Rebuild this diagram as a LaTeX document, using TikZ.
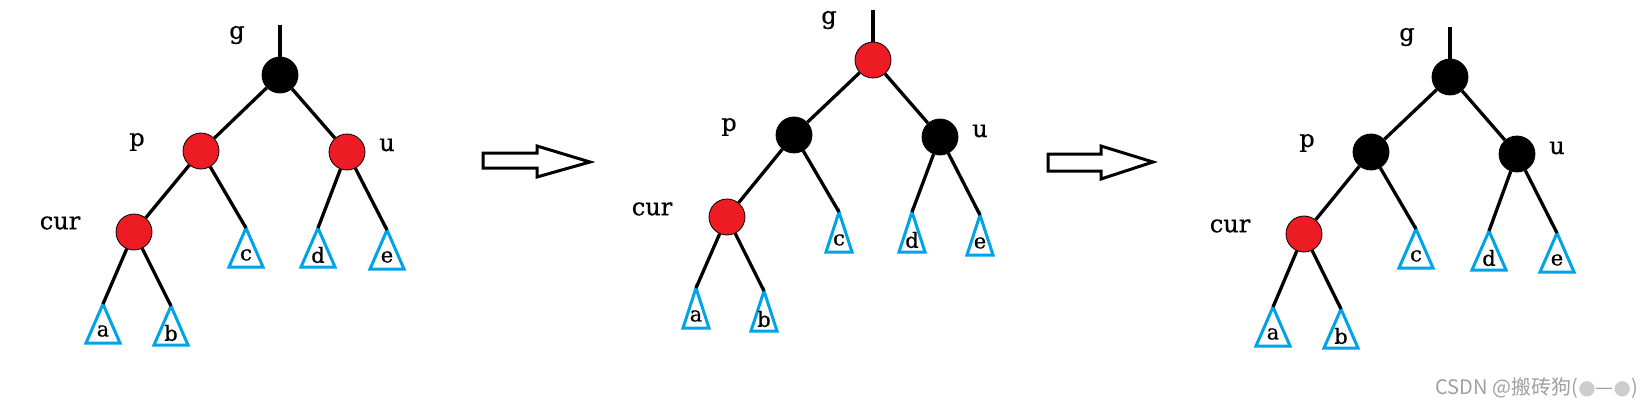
\documentclass[tikz,border=0pt]{standalone}
\usepackage{fontspec}
\setmainfont{DejaVu Serif}
\newfontfamily\lblfont[FakeBold=0.6]{DejaVu Serif}
\newfontfamily\cjkfont{Noto Sans CJK SC}
\newfontfamily\symfont{DejaVu Sans}
\definecolor{rbred}{RGB}{237,28,36}
\definecolor{tricyan}{RGB}{0,162,232}
\definecolor{wmgray}{RGB}{160,160,160}
\definecolor{wmball}{RGB}{205,205,205}
\tikzset{
  rbnode/.style={circle, minimum size=36pt, inner sep=0pt, draw=black, line width=0.8pt},
  rnode/.style={rbnode, fill=rbred},
  bnode/.style={rbnode, fill=black},
  edge/.style={line width=3.3pt, draw=black},
  tri/.style={draw=tricyan, line width=3pt, line join=miter},
  lbl/.style={font=\lblfont\fontsize{24}{28}\selectfont, inner sep=0pt},
  tlbl/.style={font=\lblfont\fontsize{21}{24}\selectfont, inner sep=0pt},
  arrowbox/.style={draw=black, line width=3pt, fill=white, line join=miter},
}
\newcommand\subtri[6]{%
  \coordinate (#1) at (#2,#3);
  \draw[tri] (#1) -- ++({-#4},#5) -- ++({2*#4},0) -- cycle;
  \path (#1) ++(0,{#5-12}) node[tlbl] (#1l) {#6};
}
\begin{document}
\begin{tikzpicture}[x=1pt, y=-1pt]
\useasboundingbox (0,0) rectangle (1651,409);
\fill[white] (0,0) rectangle (1651,409);

% ---------- tree 1 ----------
\coordinate (t1) at (280,25);
\node[bnode] (g1) at (280,75) {};
\node[rnode] (p1) at (201,151) {};
\node[rnode] (u1) at (347,152) {};
\node[rnode] (cur1) at (134,232) {};
\node[lbl] (g1l) at (237,35) {g};
\node[lbl] (p1l) at (137,142) {p};
\node[lbl] (u1l) at (387,145) {u};
\node[lbl] (cur1l) at (60,223) {cur};
\subtri{c1}{246}{228}{17}{39}{c}
\subtri{d1}{318}{228}{17}{39}{d}
\subtri{e1}{387}{230}{17}{39}{e}
\subtri{a1}{103}{304}{17}{39}{a}
\subtri{b1}{171}{306}{17}{39}{b}
\draw[edge] (t1) -- (g1);
\draw[edge] (g1) -- (p1);
\draw[edge] (g1) -- (u1);
\draw[edge] (p1) -- (cur1);
\draw[edge] (p1) -- (c1);
\draw[edge] (u1) -- (d1);
\draw[edge] (u1) -- (e1);
\draw[edge] (cur1) -- (a1);
\draw[edge] (cur1) -- (b1);

% ---------- arrow 1 ----------
\draw[arrowbox] (483,153) -- (537,153) -- (537,146) -- (590,162) -- (537,177) -- (537,168) -- (483,168) -- cycle;

% ---------- tree 2 ----------
\coordinate (t2) at (873,10);
\node[rnode] (g2) at (873,60) {};
\node[bnode] (p2) at (794,135) {};
\node[bnode] (u2) at (940,137) {};
\node[rnode] (cur2) at (727,217) {};
\node[lbl] (g2l) at (829,20) {g};
\node[lbl] (p2l) at (729,127) {p};
\node[lbl] (u2l) at (980,131) {u};
\node[lbl] (cur2l) at (652,209) {cur};
\subtri{c2}{839}{212}{13}{40}{c}
\subtri{d2}{912}{212}{13}{40}{d}
\subtri{e2}{980}{215}{13}{40}{e}
\subtri{a2}{696}{288}{13}{40}{a}
\subtri{b2}{764}{291}{13}{40}{b}
\draw[edge] (t2) -- (g2);
\draw[edge] (g2) -- (p2);
\draw[edge] (g2) -- (u2);
\draw[edge] (p2) -- (cur2);
\draw[edge] (p2) -- (c2);
\draw[edge] (u2) -- (d2);
\draw[edge] (u2) -- (e2);
\draw[edge] (cur2) -- (a2);
\draw[edge] (cur2) -- (b2);

% ---------- arrow 2 ----------
\draw[arrowbox] (1048,154) -- (1101,154) -- (1101,146) -- (1153,162) -- (1101,179) -- (1101,171) -- (1048,171) -- cycle;

% ---------- tree 3 ----------
\coordinate (t3) at (1450,27);
\node[bnode] (g3) at (1450,77) {};
\node[bnode] (p3) at (1371,152) {};
\node[bnode] (u3) at (1517,154) {};
\node[rnode] (cur3) at (1304,234) {};
\node[lbl] (g3l) at (1407,37) {g};
\node[lbl] (p3l) at (1307,143) {p};
\node[lbl] (u3l) at (1557,148) {u};
\node[lbl] (cur3l) at (1230,226) {cur};
\subtri{c3}{1416}{229}{17}{39}{c}
\subtri{d3}{1489}{231}{17}{39}{d}
\subtri{e3}{1557}{233}{17}{39}{e}
\subtri{a3}{1273}{307}{17}{39}{a}
\subtri{b3}{1341}{309}{17}{39}{b}
\draw[edge] (t3) -- (g3);
\draw[edge] (g3) -- (p3);
\draw[edge] (g3) -- (u3);
\draw[edge] (p3) -- (cur3);
\draw[edge] (p3) -- (c3);
\draw[edge] (u3) -- (d3);
\draw[edge] (u3) -- (e3);
\draw[edge] (cur3) -- (a3);
\draw[edge] (cur3) -- (b3);

% ---------- watermark ----------
\node[anchor=east, text=wmgray, inner sep=0pt, font=\cjkfont\fontsize{20}{22}\selectfont] (wm) at (1638,388) {CSDN @搬砖狗({\symfont\textcolor{wmball}{●}}—{\symfont\textcolor{wmball}{●}})};
\end{tikzpicture}
\end{document}
